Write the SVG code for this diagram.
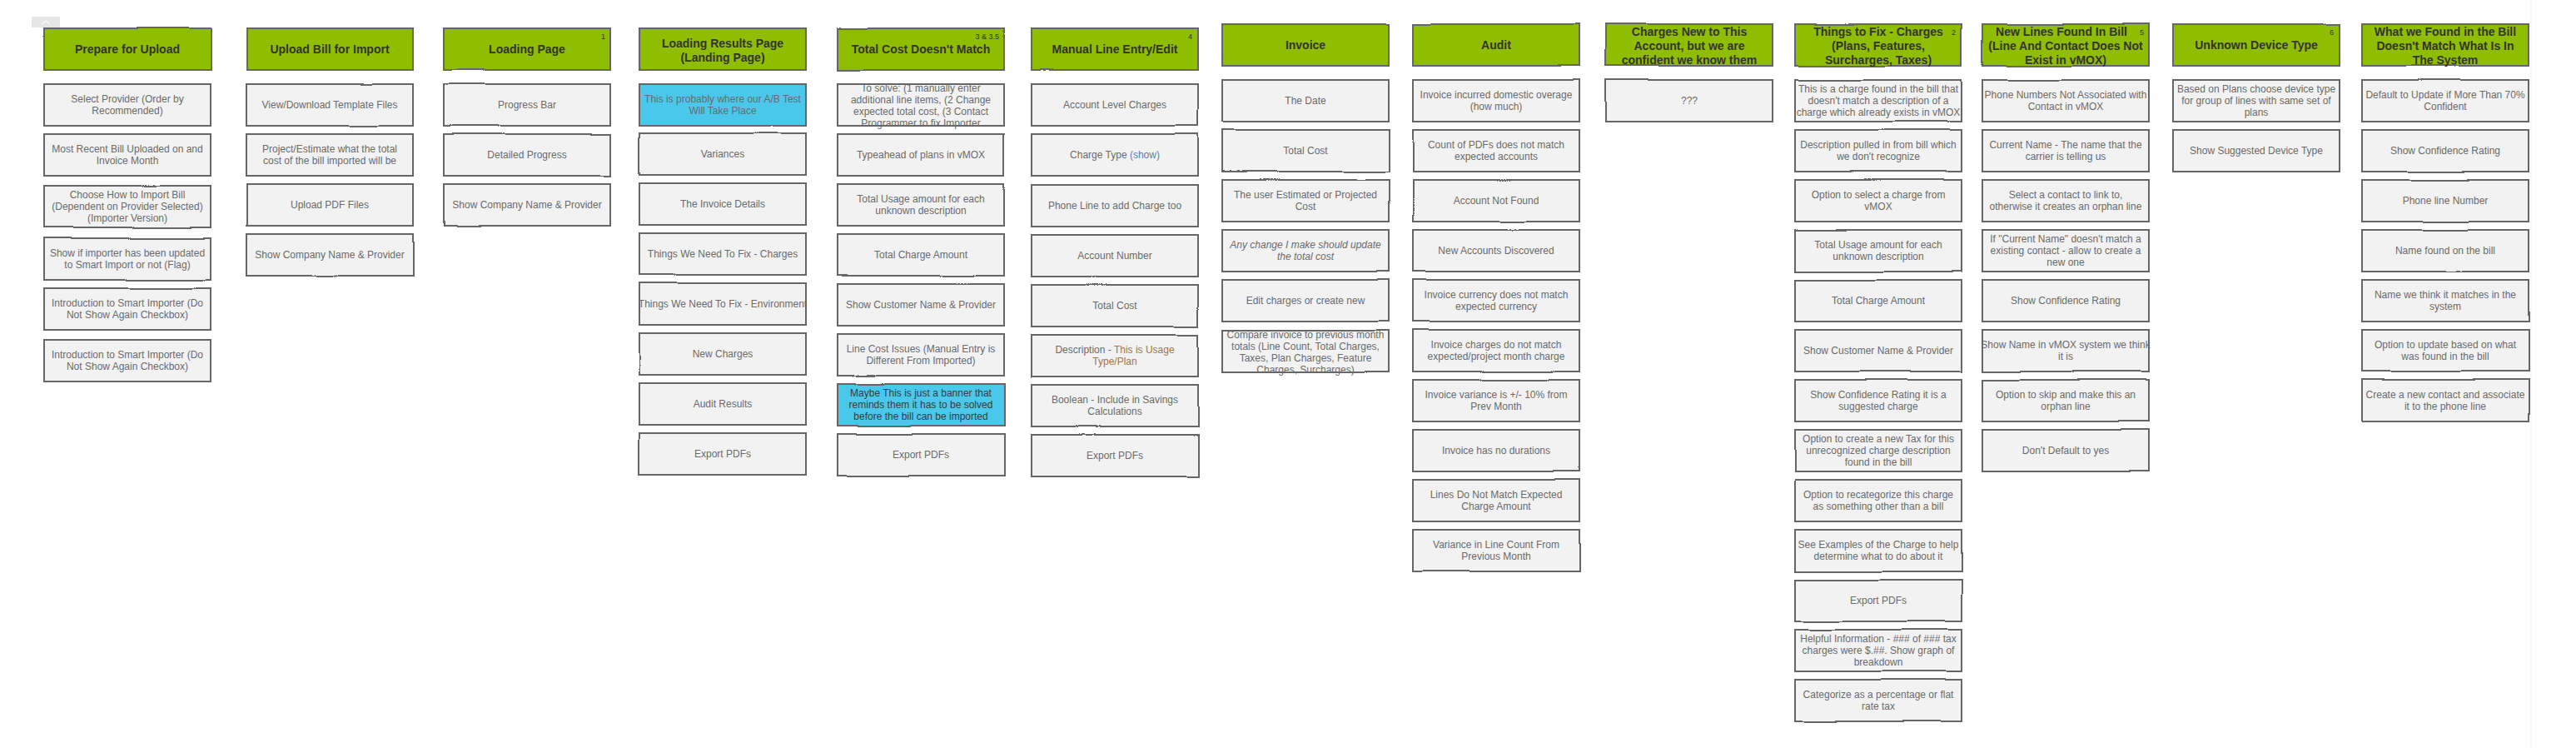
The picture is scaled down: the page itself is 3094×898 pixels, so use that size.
<svg xmlns="http://www.w3.org/2000/svg" width="3094" height="898" viewBox="0 0 3094 898">
<defs>
<filter id="sk" x="-3%" y="-8%" width="106%" height="116%">
<feTurbulence type="fractalNoise" baseFrequency="0.008" numOctaves="1" seed="4"/>
<feDisplacementMap in="SourceGraphic" scale="3" xChannelSelector="R" yChannelSelector="G"/>
</filter>
</defs>
<style>
.box{fill:#f2f2f2;stroke:#666;stroke-width:2;filter:url(#sk)}
.hdr{fill:#8fbd00;stroke:#666;stroke-width:2;filter:url(#sk)}
.blue{fill:#48c8ec;stroke:#666;stroke-width:2;filter:url(#sk)}
.t{font-family:"Liberation Sans",Arial,sans-serif;font-size:12px;fill:#6a6a6a;text-anchor:middle}
.td{fill:#3a3a3a}
.it{font-style:italic}
.h{font-family:"Liberation Sans",Arial,sans-serif;font-size:14px;font-weight:bold;fill:#333;text-anchor:middle}
.n{font-family:"Liberation Sans",Arial,sans-serif;font-size:9px;fill:#333;text-anchor:end}
</style>
<rect width="3094" height="898" fill="#ffffff"/>
<line x1="3040" y1="0" x2="3040" y2="898" stroke="#f1f1f1" stroke-width="1"/>
<g id="collapse-tab"><rect x="38" y="20" width="34" height="13" fill="#e6e6e6"/><polyline points="50,29 55,25 60,29" fill="none" stroke="#fafafa" stroke-width="1.2"/></g>

<!-- Column 1 -->
<g id="c1-h"><rect class="hdr" x="53" y="34" width="200" height="50"/><text class="h" x="153" y="64">Prepare for Upload</text></g>
<g id="c1-1"><rect class="box" x="53" y="101" width="200" height="50"/><text class="t"><tspan x="153" y="123">Select Provider (Order by</tspan><tspan x="153" y="137">Recommended)</tspan></text></g>
<g id="c1-2"><rect class="box" x="53" y="161" width="200" height="50"/><text class="t"><tspan x="153" y="183">Most Recent Bill Uploaded on and</tspan><tspan x="153" y="197">Invoice Month</tspan></text></g>
<g id="c1-3"><rect class="box" x="53" y="223" width="200" height="50"/><text class="t"><tspan x="153" y="238">Choose How to Import Bill</tspan><tspan x="153" y="252">(Dependent on Provider Selected)</tspan><tspan x="153" y="266">(Importer Version)</tspan></text></g>
<g id="c1-4"><rect class="box" x="53" y="286" width="200" height="50"/><text class="t"><tspan x="153" y="308">Show if importer has been updated</tspan><tspan x="153" y="322">to Smart Import or not (Flag)</tspan></text></g>
<g id="c1-5"><rect class="box" x="53" y="346" width="200" height="50"/><text class="t"><tspan x="153" y="368">Introduction to Smart Importer (Do</tspan><tspan x="153" y="382">Not Show Again Checkbox)</tspan></text></g>
<g id="c1-6"><rect class="box" x="53" y="408" width="200" height="50"/><text class="t"><tspan x="153" y="430">Introduction to Smart Importer (Do</tspan><tspan x="153" y="444">Not Show Again Checkbox)</tspan></text></g>

<!-- Column 2 -->
<g id="c2-h"><rect class="hdr" x="296" y="34" width="200" height="50"/><text class="h" x="396" y="64">Upload Bill for Import</text></g>
<g id="c2-1"><rect class="box" x="296" y="101" width="200" height="50"/><text class="t" x="396" y="130">View/Download Template Files</text></g>
<g id="c2-2"><rect class="box" x="296" y="161" width="200" height="50"/><text class="t"><tspan x="396" y="183">Project/Estimate what the total</tspan><tspan x="396" y="197">cost of the bill imported will be</tspan></text></g>
<g id="c2-3"><rect class="box" x="296" y="221" width="200" height="50"/><text class="t" x="396" y="250">Upload PDF Files</text></g>
<g id="c2-4"><rect class="box" x="296" y="281" width="200" height="50"/><text class="t" x="396" y="310">Show Company Name &amp; Provider</text></g>

<!-- Column 3 -->
<g id="c3-h"><rect class="hdr" x="533" y="34" width="200" height="50"/><text class="h" x="633" y="64">Loading Page</text><text class="n" x="727" y="47">1</text></g>
<g id="c3-1"><rect class="box" x="533" y="101" width="200" height="50"/><text class="t" x="633" y="130">Progress Bar</text></g>
<g id="c3-2"><rect class="box" x="533" y="161" width="200" height="50"/><text class="t" x="633" y="190">Detailed Progress</text></g>
<g id="c3-3"><rect class="box" x="533" y="221" width="200" height="50"/><text class="t" x="633" y="250">Show Company Name &amp; Provider</text></g>

<!-- Column 4 -->
<g id="c4-h"><rect class="hdr" x="768" y="34" width="200" height="50"/><text class="h"><tspan x="868" y="57">Loading Results Page</tspan><tspan x="868" y="74">(Landing Page)</tspan></text></g>
<g id="c4-1"><rect class="blue" x="768" y="101" width="200" height="50"/><text class="t"><tspan x="868" y="123">This is probably where our A/B Test</tspan><tspan x="868" y="137">Will Take Place</tspan></text></g>
<g id="c4-2"><rect class="box" x="768" y="160" width="200" height="50"/><text class="t" x="868" y="189">Variances</text></g>
<g id="c4-3"><rect class="box" x="768" y="220" width="200" height="50"/><text class="t" x="868" y="249">The Invoice Details</text></g>
<g id="c4-4"><rect class="box" x="768" y="280" width="200" height="50"/><text class="t" x="868" y="309">Things We Need To Fix - Charges</text></g>
<g id="c4-5"><rect class="box" x="768" y="340" width="200" height="50"/><text class="t" x="868" y="369">Things We Need To Fix - Environment</text></g>
<g id="c4-6"><rect class="box" x="768" y="400" width="200" height="50"/><text class="t" x="868" y="429">New Charges</text></g>
<g id="c4-7"><rect class="box" x="768" y="460" width="200" height="50"/><text class="t" x="868" y="489">Audit Results</text></g>
<g id="c4-8"><rect class="box" x="768" y="520" width="200" height="50"/><text class="t" x="868" y="549">Export PDFs</text></g>

<!-- Column 5 -->
<g id="c5-h"><rect class="hdr" x="1006" y="34" width="200" height="50"/><text class="h" x="1106" y="64">Total Cost Doesn't Match</text><text class="n" x="1200" y="47">3 &amp; 3.5</text></g>
<g id="c5-1"><rect class="box" x="1006" y="101" width="200" height="50"/><text class="t"><tspan x="1106" y="110">To solve: (1 manually enter</tspan><tspan x="1106" y="124">additional line items, (2 Change</tspan><tspan x="1106" y="138">expected total cost, (3 Contact</tspan><tspan x="1106" y="152">Programmer to fix Importer</tspan></text></g>
<g id="c5-2"><rect class="box" x="1006" y="161" width="200" height="50"/><text class="t" x="1106" y="190">Typeahead of plans in vMOX</text></g>
<g id="c5-3"><rect class="box" x="1006" y="221" width="200" height="50"/><text class="t"><tspan x="1106" y="243">Total Usage amount for each</tspan><tspan x="1106" y="257">unknown description</tspan></text></g>
<g id="c5-4"><rect class="box" x="1006" y="281" width="200" height="50"/><text class="t" x="1106" y="310">Total Charge Amount</text></g>
<g id="c5-5"><rect class="box" x="1006" y="341" width="200" height="50"/><text class="t" x="1106" y="370">Show Customer Name &amp; Provider</text></g>
<g id="c5-6"><rect class="box" x="1006" y="401" width="200" height="50"/><text class="t"><tspan x="1106" y="423">Line Cost Issues (Manual Entry is</tspan><tspan x="1106" y="437">Different From Imported)</tspan></text></g>
<g id="c5-7"><rect class="blue" x="1006" y="461" width="200" height="50"/><text class="t td"><tspan x="1106" y="476">Maybe This is just a banner that</tspan><tspan x="1106" y="490">reminds them it has to be solved</tspan><tspan x="1106" y="504">before the bill can be imported</tspan></text></g>
<g id="c5-8"><rect class="box" x="1006" y="521" width="200" height="50"/><text class="t" x="1106" y="550">Export PDFs</text></g>

<!-- Column 6 -->
<g id="c6-h"><rect class="hdr" x="1239" y="34" width="200" height="50"/><text class="h" x="1339" y="64">Manual Line Entry/Edit</text><text class="n" x="1432" y="47">4</text></g>
<g id="c6-1"><rect class="box" x="1239" y="101" width="200" height="50"/><text class="t" x="1339" y="130">Account Level Charges</text></g>
<g id="c6-2"><rect class="box" x="1239" y="161" width="200" height="50"/><text class="t" x="1339" y="190">Charge Type <tspan fill="#5b7ea6">(show)</tspan></text></g>
<g id="c6-3"><rect class="box" x="1239" y="222" width="200" height="50"/><text class="t" x="1339" y="251">Phone Line to add Charge too</text></g>
<g id="c6-4"><rect class="box" x="1239" y="282" width="200" height="50"/><text class="t" x="1339" y="311">Account Number</text></g>
<g id="c6-5"><rect class="box" x="1239" y="342" width="200" height="50"/><text class="t" x="1339" y="371">Total Cost</text></g>
<g id="c6-6"><rect class="box" x="1239" y="402" width="200" height="50"/><text class="t"><tspan x="1339" y="424">Description - <tspan fill="#a2744a">This is Usage</tspan></tspan><tspan x="1339" y="438" fill="#a2744a">Type/Plan</tspan></text></g>
<g id="c6-7"><rect class="box" x="1239" y="462" width="200" height="50"/><text class="t"><tspan x="1339" y="484">Boolean - Include in Savings</tspan><tspan x="1339" y="498">Calculations</tspan></text></g>
<g id="c6-8"><rect class="box" x="1239" y="522" width="200" height="50"/><text class="t" x="1339" y="551">Export PDFs</text></g>

<!-- Column 7 -->
<g id="c7-h"><rect class="hdr" x="1468" y="29" width="200" height="50"/><text class="h" x="1568" y="59">Invoice</text></g>
<g id="c7-1"><rect class="box" x="1468" y="96" width="200" height="50"/><text class="t" x="1568" y="125">The Date</text></g>
<g id="c7-2"><rect class="box" x="1468" y="156" width="200" height="50"/><text class="t" x="1568" y="185">Total Cost</text></g>
<g id="c7-3"><rect class="box" x="1468" y="216" width="200" height="50"/><text class="t"><tspan x="1568" y="238">The user Estimated or Projected</tspan><tspan x="1568" y="252">Cost</tspan></text></g>
<g id="c7-4"><rect class="box" x="1468" y="276" width="200" height="50"/><text class="t it"><tspan x="1568" y="298">Any change I make should update</tspan><tspan x="1568" y="312">the total cost</tspan></text></g>
<g id="c7-5"><rect class="box" x="1468" y="336" width="200" height="50"/><text class="t" x="1568" y="365">Edit charges or create new</text></g>
<g id="c7-6"><rect class="box" x="1468" y="397" width="200" height="50"/><text class="t"><tspan x="1568" y="406">Compare invoice to previous month</tspan><tspan x="1568" y="420">totals (Line Count, Total Charges,</tspan><tspan x="1568" y="434">Taxes, Plan Charges, Feature</tspan><tspan x="1568" y="448">Charges, Surcharges)</tspan></text></g>

<!-- Column 8 -->
<g id="c8-h"><rect class="hdr" x="1697" y="29" width="200" height="50"/><text class="h" x="1797" y="59">Audit</text></g>
<g id="c8-1"><rect class="box" x="1697" y="96" width="200" height="50"/><text class="t"><tspan x="1797" y="118">Invoice incurred domestic overage</tspan><tspan x="1797" y="132">(how much)</tspan></text></g>
<g id="c8-2"><rect class="box" x="1697" y="156" width="200" height="50"/><text class="t"><tspan x="1797" y="178">Count of PDFs does not match</tspan><tspan x="1797" y="192">expected accounts</tspan></text></g>
<g id="c8-3"><rect class="box" x="1697" y="216" width="200" height="50"/><text class="t" x="1797" y="245">Account Not Found</text></g>
<g id="c8-4"><rect class="box" x="1697" y="276" width="200" height="50"/><text class="t" x="1797" y="305">New Accounts Discovered</text></g>
<g id="c8-5"><rect class="box" x="1697" y="336" width="200" height="50"/><text class="t"><tspan x="1797" y="358">Invoice currency does not match</tspan><tspan x="1797" y="372">expected currency</tspan></text></g>
<g id="c8-6"><rect class="box" x="1697" y="396" width="200" height="50"/><text class="t"><tspan x="1797" y="418">Invoice charges do not match</tspan><tspan x="1797" y="432">expected/project month charge</tspan></text></g>
<g id="c8-7"><rect class="box" x="1697" y="456" width="200" height="50"/><text class="t"><tspan x="1797" y="478">Invoice variance is +/- 10% from</tspan><tspan x="1797" y="492">Prev Month</tspan></text></g>
<g id="c8-8"><rect class="box" x="1697" y="516" width="200" height="50"/><text class="t" x="1797" y="545">Invoice has no durations</text></g>
<g id="c8-9"><rect class="box" x="1697" y="576" width="200" height="50"/><text class="t"><tspan x="1797" y="598">Lines Do Not Match Expected</tspan><tspan x="1797" y="612">Charge Amount</tspan></text></g>
<g id="c8-10"><rect class="box" x="1697" y="636" width="200" height="50"/><text class="t"><tspan x="1797" y="658">Variance in Line Count From</tspan><tspan x="1797" y="672">Previous Month</tspan></text></g>

<!-- Column 9 -->
<g id="c9-h"><rect class="hdr" x="1929" y="29" width="200" height="50"/><text class="h"><tspan x="2029" y="43">Charges New to This</tspan><tspan x="2029" y="60">Account, but we are</tspan><tspan x="2029" y="77">confident we know them</tspan></text></g>
<g id="c9-1"><rect class="box" x="1929" y="96" width="200" height="50"/><text class="t" x="2029" y="125">???</text></g>

<!-- Column 10 -->
<g id="c10-h"><rect class="hdr" x="2156" y="29" width="200" height="50"/><text class="h"><tspan x="2256" y="43">Things to Fix - Charges</tspan><tspan x="2256" y="60">(Plans, Features,</tspan><tspan x="2256" y="77">Surcharges, Taxes)</tspan></text><text class="n" x="2349" y="42">2</text></g>
<g id="c10-1"><rect class="box" x="2156" y="96" width="200" height="50"/><text class="t"><tspan x="2256" y="111">This is a charge found in the bill that</tspan><tspan x="2256" y="125">doesn't match a description of a</tspan><tspan x="2256" y="139">charge which already exists in vMOX</tspan></text></g>
<g id="c10-2"><rect class="box" x="2156" y="156" width="200" height="50"/><text class="t"><tspan x="2256" y="178">Description pulled in from bill which</tspan><tspan x="2256" y="192">we don't recognize</tspan></text></g>
<g id="c10-3"><rect class="box" x="2156" y="216" width="200" height="50"/><text class="t"><tspan x="2256" y="238">Option to select a charge from</tspan><tspan x="2256" y="252">vMOX</tspan></text></g>
<g id="c10-4"><rect class="box" x="2156" y="276" width="200" height="50"/><text class="t"><tspan x="2256" y="298">Total Usage amount for each</tspan><tspan x="2256" y="312">unknown description</tspan></text></g>
<g id="c10-5"><rect class="box" x="2156" y="336" width="200" height="50"/><text class="t" x="2256" y="365">Total Charge Amount</text></g>
<g id="c10-6"><rect class="box" x="2156" y="396" width="200" height="50"/><text class="t" x="2256" y="425">Show Customer Name &amp; Provider</text></g>
<g id="c10-7"><rect class="box" x="2156" y="456" width="200" height="50"/><text class="t"><tspan x="2256" y="478">Show Confidence Rating it is a</tspan><tspan x="2256" y="492">suggested charge</tspan></text></g>
<g id="c10-8"><rect class="box" x="2156" y="516" width="200" height="50"/><text class="t"><tspan x="2256" y="531">Option to create a new Tax for this</tspan><tspan x="2256" y="545">unrecognized charge description</tspan><tspan x="2256" y="559">found in the bill</tspan></text></g>
<g id="c10-9"><rect class="box" x="2156" y="576" width="200" height="50"/><text class="t"><tspan x="2256" y="598">Option to recategorize this charge</tspan><tspan x="2256" y="612">as something other than a bill</tspan></text></g>
<g id="c10-10"><rect class="box" x="2156" y="636" width="200" height="50"/><text class="t"><tspan x="2256" y="658">See Examples of the Charge to help</tspan><tspan x="2256" y="672">determine what to do about it</tspan></text></g>
<g id="c10-11"><rect class="box" x="2156" y="696" width="200" height="50"/><text class="t" x="2256" y="725">Export PDFs</text></g>
<g id="c10-12"><rect class="box" x="2156" y="756" width="200" height="50"/><text class="t"><tspan x="2256" y="771">Helpful Information - ### of ### tax</tspan><tspan x="2256" y="785">charges were $.##. Show graph of</tspan><tspan x="2256" y="799">breakdown</tspan></text></g>
<g id="c10-13"><rect class="box" x="2156" y="816" width="200" height="50"/><text class="t"><tspan x="2256" y="838">Categorize as a percentage or flat</tspan><tspan x="2256" y="852">rate tax</tspan></text></g>

<!-- Column 11 -->
<g id="c11-h"><rect class="hdr" x="2381" y="29" width="200" height="50"/><text class="h"><tspan x="2476" y="43">New Lines Found In Bill</tspan><tspan x="2481" y="60">(Line And Contact Does Not</tspan><tspan x="2481" y="77">Exist in vMOX)</tspan></text><text class="n" x="2575" y="42">5</text></g>
<g id="c11-1"><rect class="box" x="2381" y="96" width="200" height="50"/><text class="t"><tspan x="2481" y="118">Phone Numbers Not Associated with</tspan><tspan x="2481" y="132">Contact in vMOX</tspan></text></g>
<g id="c11-2"><rect class="box" x="2381" y="156" width="200" height="50"/><text class="t"><tspan x="2481" y="178">Current Name - The name that the</tspan><tspan x="2481" y="192">carrier is telling us</tspan></text></g>
<g id="c11-3"><rect class="box" x="2381" y="216" width="200" height="50"/><text class="t"><tspan x="2481" y="238">Select a contact to link to,</tspan><tspan x="2481" y="252">otherwise it creates an orphan line</tspan></text></g>
<g id="c11-4"><rect class="box" x="2381" y="276" width="200" height="50"/><text class="t"><tspan x="2481" y="291">If "Current Name" doesn't match a</tspan><tspan x="2481" y="305">existing contact - allow to create a</tspan><tspan x="2481" y="319">new one</tspan></text></g>
<g id="c11-5"><rect class="box" x="2381" y="336" width="200" height="50"/><text class="t" x="2481" y="365">Show Confidence Rating</text></g>
<g id="c11-6"><rect class="box" x="2381" y="396" width="200" height="50"/><text class="t"><tspan x="2481" y="418">Show Name in vMOX system we think</tspan><tspan x="2481" y="432">it is</tspan></text></g>
<g id="c11-7"><rect class="box" x="2381" y="456" width="200" height="50"/><text class="t"><tspan x="2481" y="478">Option to skip and make this an</tspan><tspan x="2481" y="492">orphan line</tspan></text></g>
<g id="c11-8"><rect class="box" x="2381" y="516" width="200" height="50"/><text class="t" x="2481" y="545">Don't Default to yes</text></g>

<!-- Column 12 -->
<g id="c12-h"><rect class="hdr" x="2610" y="29" width="200" height="50"/><text class="h" x="2710" y="59">Unknown Device Type</text><text class="n" x="2803" y="42">6</text></g>
<g id="c12-1"><rect class="box" x="2610" y="96" width="200" height="50"/><text class="t"><tspan x="2710" y="111">Based on Plans choose device type</tspan><tspan x="2710" y="125">for group of lines with same set of</tspan><tspan x="2710" y="139">plans</tspan></text></g>
<g id="c12-2"><rect class="box" x="2610" y="156" width="200" height="50"/><text class="t" x="2710" y="185">Show Suggested Device Type</text></g>

<!-- Column 13 -->
<g id="c13-h"><rect class="hdr" x="2837" y="29" width="200" height="50"/><text class="h"><tspan x="2937" y="43">What we Found in the Bill</tspan><tspan x="2937" y="60">Doesn't Match What Is In</tspan><tspan x="2937" y="77">The System</tspan></text></g>
<g id="c13-1"><rect class="box" x="2837" y="96" width="200" height="50"/><text class="t"><tspan x="2937" y="118">Default to Update if More Than 70%</tspan><tspan x="2937" y="132">Confident</tspan></text></g>
<g id="c13-2"><rect class="box" x="2837" y="156" width="200" height="50"/><text class="t" x="2937" y="185">Show Confidence Rating</text></g>
<g id="c13-3"><rect class="box" x="2837" y="216" width="200" height="50"/><text class="t" x="2937" y="245">Phone line Number</text></g>
<g id="c13-4"><rect class="box" x="2837" y="276" width="200" height="50"/><text class="t" x="2937" y="305">Name found on the bill</text></g>
<g id="c13-5"><rect class="box" x="2837" y="336" width="200" height="50"/><text class="t"><tspan x="2937" y="358">Name we think it matches in the</tspan><tspan x="2937" y="372">system</tspan></text></g>
<g id="c13-6"><rect class="box" x="2837" y="396" width="200" height="50"/><text class="t"><tspan x="2937" y="418">Option to update based on what</tspan><tspan x="2937" y="432">was found in the bill</tspan></text></g>
<g id="c13-7"><rect class="box" x="2837" y="456" width="200" height="50"/><text class="t"><tspan x="2937" y="478">Create a new contact and associate</tspan><tspan x="2937" y="492">it to the phone line</tspan></text></g>
</svg>
